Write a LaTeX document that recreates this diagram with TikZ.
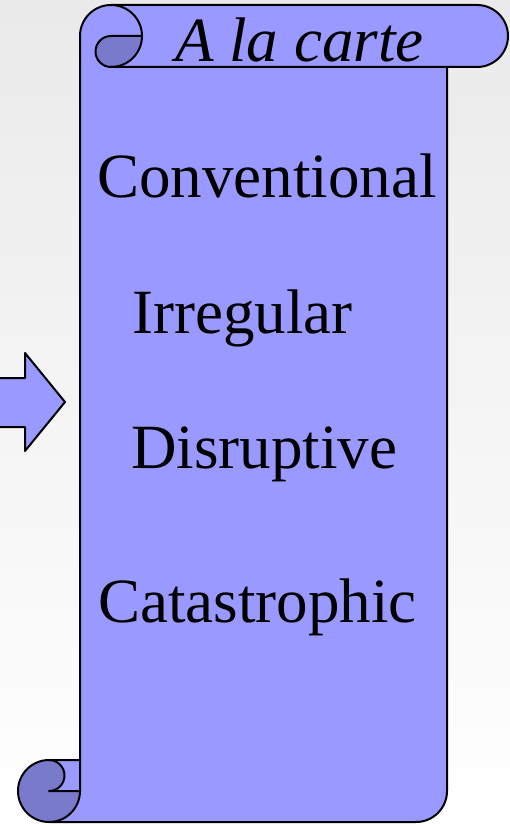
\documentclass[tikz,border=0pt]{standalone}
\usepackage{fontspec}
\setmainfont{Liberation Serif}
\definecolor{scrollfill}{RGB}{153,153,255}
\definecolor{scrolldark}{RGB}{122,122,204}
\definecolor{bgtop}{RGB}{234,234,234}
\tikzset{
  outline/.style={draw=black, line width=2pt, line join=round, line cap=round},
  itemtext/.style={anchor=base west, inner sep=0pt, font=\fontsize{63}{70}\selectfont},
}
\begin{document}
\begin{tikzpicture}[x=1pt, y=-1pt]
  % page and soft background
  \useasboundingbox (0,0) rectangle (510,824);
  \clip (0,0) rectangle (510,824);
  \shade[top color=bgtop, bottom color=white] (0,0) rectangle (510,824);

  % block arrow pointing at the scroll
  \draw[outline, fill=scrollfill]
    (-10,378) -- (25,378) -- (25,353) -- (65,402) -- (25,451) -- (25,427) -- (-10,427) -- cycle;

  % scroll body
  \fill[scrollfill]
    (111,5) -- (477,5) arc[start angle=-90, end angle=90, radius=31]
    -- (447,67) -- (447,791) arc[start angle=0, end angle=90, radius=31]
    -- (49,822) arc[start angle=90, end angle=270, radius=31]
    -- (80,760) -- (80,36) arc[start angle=180, end angle=270, radius=31] -- cycle;

  % shaded parts of the curls
  \fill[scrolldark]
    (111,36) -- (142,36) arc[start angle=0, end angle=90, radius=31]
    arc[start angle=90, end angle=270, radius=15.5] -- cycle;
  \fill[scrolldark]
    (49,791) -- (80,791) arc[start angle=0, end angle=90, radius=31]
    arc[start angle=90, end angle=270, radius=31]
    arc[start angle=-90, end angle=90, radius=15.5] -- cycle;

  % outlines
  \draw[outline]
    (80,791) arc[start angle=0, end angle=90, radius=31]
    -- (416,822) arc[start angle=90, end angle=0, radius=31] -- (447,67);
  \draw[outline]
    (111,67) -- (477,67) arc[start angle=90, end angle=-90, radius=31]
    -- (111,5) arc[start angle=-90, end angle=-180, radius=31] -- (80,791);
  % top curl
  \draw[outline]
    (111,5) arc[start angle=-90, end angle=90, radius=31]
    arc[start angle=90, end angle=270, radius=15.5] -- (142,36);
  % bottom curl
  \draw[outline]
    (80,760) -- (49,760) arc[start angle=-90, end angle=-270, radius=31];
  \draw[outline]
    (49,760) arc[start angle=-90, end angle=90, radius=15.5] -- (80,791);

  % texts
  \node[itemtext, font=\fontsize{63}{70}\selectfont\itshape] (title) at (175,62) {A la carte};
  \node[itemtext] (conv) at (97,197) {Conventional};
  \node[itemtext] (irreg) at (132,333) {Irregular};
  \node[itemtext] (disr) at (131,468) {Disruptive};
  \node[itemtext] (cata) at (98,622) {Catastrophic};
\end{tikzpicture}
\end{document}
